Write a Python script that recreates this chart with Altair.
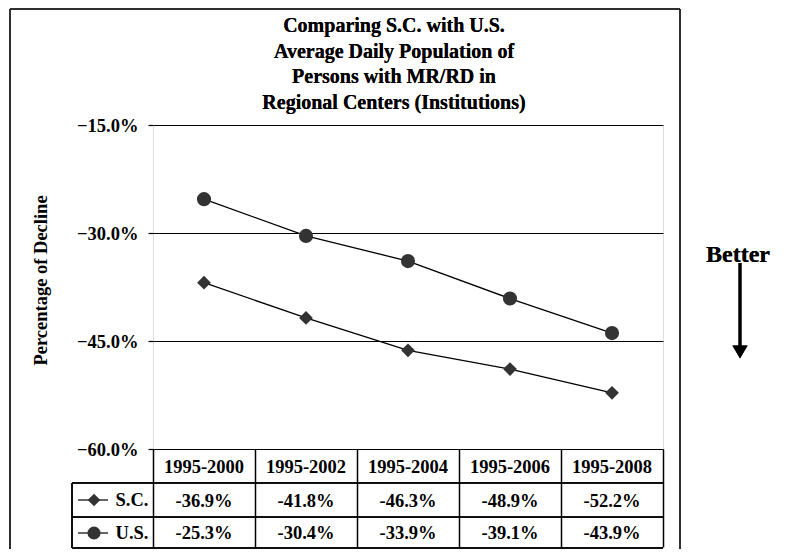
import altair as alt
import pandas as pd

periods = ["1995-2000", "1995-2002", "1995-2004", "1995-2006", "1995-2008"]
sc_values = [-36.9, -41.8, -46.3, -48.9, -52.2]
us_values = [-25.3, -30.4, -33.9, -39.1, -43.9]
series_names = ["S.C.", "U.S."]
y_ticks = [-15, -30, -45, -60]
title_lines = ["Comparing S.C. with U.S.", "Average Daily Population of",
               "Persons with MR/RD in", "Regional Centers (Institutions)"]

rows = []
for p, v in zip(periods, sc_values):
    rows.append({"period": p, "series": "S.C.", "value": v, "label": f"{v:.1f}%"})
for p, v in zip(periods, us_values):
    rows.append({"period": p, "series": "U.S.", "value": v, "label": f"{v:.1f}%"})
df = pd.DataFrame(rows)
pdf = pd.DataFrame({"period": periods})
ldf = pd.DataFrame({"series": series_names})

FONT = "Liberation Serif"
W, H = 510, 324
FS = 18.5

xenc = alt.X("period:N", sort=periods,
             scale=alt.Scale(domain=periods, type="band", paddingInner=0, paddingOuter=0),
             axis=alt.Axis(title=None, labels=False, domain=False, ticks=True,
                           tickBand="extent", tickSize=98, tickColor="black",
                           tickWidth=1.5, grid=False))
yenc = alt.Y("value:Q", scale=alt.Scale(domain=[-60, -15], nice=False, zero=False),
             axis=alt.Axis(values=y_ticks, labelExpr="format(datum.value, '.1f') + '%'",
                           grid=True, gridColor="black", gridWidth=1.2,
                           tickColor="black", tickSize=5, tickWidth=1.2, domain=False,
                           labelFont=FONT, labelFontWeight="bold", labelFontSize=FS,
                           labelColor="black", labelPadding=10,
                           title="Percentage of Decline", titleFont=FONT,
                           titleFontWeight="bold", titleFontSize=FS, titleColor="black",
                           titleAngle=270, titleX=-113, titleY=155,
                           titleAlign="center", titleBaseline="middle"))

base = alt.Chart(df)
lines = base.mark_line(color="black", strokeWidth=1.3).encode(
    x=xenc, y=yenc, detail="series:N")
pts_sc = base.transform_filter(alt.datum.series == "S.C.").mark_point(
    shape="diamond", filled=True, size=190, color="#333333", opacity=1).encode(
    x=alt.X("period:N", sort=periods), y="value:Q")
pts_us = base.transform_filter(alt.datum.series == "U.S.").mark_point(
    shape="circle", filled=True, size=200, color="#333333", opacity=1).encode(
    x=alt.X("period:N", sort=periods), y="value:Q")

txt = dict(font=FONT, fontWeight="bold", fontSize=FS, color="black",
           align="center", baseline="middle")
header = alt.Chart(pdf).mark_text(**txt).encode(
    x=alt.X("period:N", sort=periods), y=alt.value(342), text="period:N")
sc_txt = base.transform_filter(alt.datum.series == "S.C.").mark_text(**txt).encode(
    x=alt.X("period:N", sort=periods), y=alt.value(376), text="label:N")
us_txt = base.transform_filter(alt.datum.series == "U.S.").mark_text(**txt).encode(
    x=alt.X("period:N", sort=periods), y=alt.value(408), text="label:N")

lb = alt.Chart(ldf)

# chart title (multi-line, centred over the chart box)
title = lb.mark_text(font=FONT, fontWeight="bold", fontSize=20, color="black",
                     align="center", baseline="top", lineHeight=25.5).encode(
    x=alt.value(241), y=alt.value(-109), text=alt.value(title_lines))

# table borders
line_style = dict(color="black", strokeWidth=1.5)
hlines = [
    lb.mark_rule(**line_style).encode(x=alt.value(-81), x2=alt.value(W), y=alt.value(yy))
    for yy in (358, 392, 423)
]
vline = lb.mark_rule(**line_style).encode(x=alt.value(-81), y=alt.value(358), y2=alt.value(423))

# legend glyphs in table
leg_layers = []
for name, yy, shape, sz in (("S.C.", 375, "diamond", 160), ("U.S.", 408, "circle", 170)):
    f = lb.transform_filter(alt.datum.series == name)
    leg_layers.append(f.mark_rule(color="black", strokeWidth=1.2).encode(
        x=alt.value(-75), x2=alt.value(-45), y=alt.value(yy)))
    leg_layers.append(f.mark_point(shape=shape, filled=True, size=sz, color="#333333",
                                   opacity=1).encode(x=alt.value(-59), y=alt.value(yy)))
    leg_layers.append(f.mark_text(**txt).encode(x=alt.value(-21), y=alt.value(yy),
                                                text="series:N"))

# outer box (left, top, right)
box_style = dict(color="#222222", strokeWidth=1.5)
box = [
    lb.mark_rule(**box_style).encode(x=alt.value(-143), y=alt.value(-116), y2=alt.value(440)),
    lb.mark_rule(**box_style).encode(x=alt.value(527), y=alt.value(-116), y2=alt.value(440)),
    lb.mark_rule(**box_style).encode(x=alt.value(-143), x2=alt.value(527), y=alt.value(-116)),
]

better = lb.mark_text(font=FONT, fontWeight="bold", fontSize=24, color="black",
                      align="center", baseline="middle").encode(
    x=alt.value(585), y=alt.value(130), text=alt.value("Better"))
arrow = lb.mark_rule(color="black", strokeWidth=3).encode(
    x=alt.value(587), y=alt.value(138), y2=alt.value(222))
arrow_head = lb.mark_point(shape="triangle-down", filled=True, size=230, color="black",
                           opacity=1).encode(x=alt.value(587), y=alt.value(227))

layers = ([lines, pts_sc, pts_us, header, sc_txt, us_txt, title] + hlines + [vline]
          + leg_layers + box + [better, arrow, arrow_head])

chart = alt.layer(*layers).properties(
    width=W, height=H,
    autosize=alt.AutoSizeParams(type="none"),
    padding={"left": 145, "top": 117, "right": 115, "bottom": 100},
).configure_view(stroke="black", strokeWidth=1.5).configure(background="white")

chart.save("out.html", embed_options={"renderer": "svg", "actions": False})
